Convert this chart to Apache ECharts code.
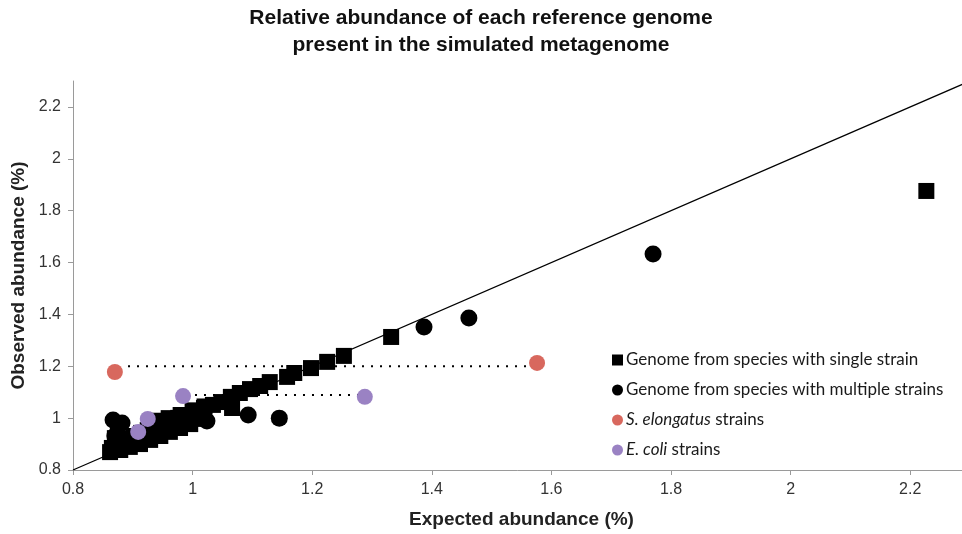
<!DOCTYPE html>
<html>
<head>
<meta charset="utf-8">
<script src="https://cdn.jsdelivr.net/npm/echarts@6/dist/echarts.min.js"></script>
<style>
html,body{margin:0;padding:0;background:#fff;}
#c{width:962px;height:534px;}
</style>
</head>
<body>
<div id="c"></div>
<script>
// ---- data ----
var titleText = 'Relative abundance of each reference genome\npresent in the simulated metagenome';
var xAxisName = 'Expected abundance (%)';
var yAxisName = 'Observed abundance (%)';
var tickValues = [0.8, 1.0, 1.2, 1.4, 1.6, 1.8, 2.0, 2.2];
var seriesNames = ['Genome from species with single strain', 'Genome from species with multiple strains', 'S. elongatus strains', 'E. coli strains'];

var singleStrain = [
  [2.227, 1.876], [1.332, 1.313], [1.253, 1.240], [1.225, 1.217], [1.198, 1.193],
  [1.170, 1.174], [1.158, 1.159], [1.129, 1.139], [1.113, 1.124], [1.096, 1.112],
  [1.079, 1.097], [1.064, 1.082], [1.066, 1.039], [1.048, 1.062], [1.034, 1.051],
  [1.019, 1.039], [1.004, 1.024], [0.991, 1.012], [0.976, 1.001], [0.962, 0.989],
  [0.949, 0.977], [0.937, 0.966], [0.925, 0.954], [0.914, 0.943], [0.902, 0.931],
  [0.892, 0.920], [0.882, 0.908], [0.874, 0.896], [0.865, 0.885], [0.862, 0.869],
  [0.879, 0.877], [0.895, 0.889], [0.912, 0.900], [0.929, 0.916], [0.946, 0.931],
  [0.962, 0.947], [0.979, 0.962], [0.996, 0.977], [1.012, 0.997], [0.870, 0.923],
  [0.875, 0.950], [0.940, 0.990], [0.960, 1.000], [0.980, 1.012], [1.000, 1.030],
  [1.020, 1.045]
];
var multiStrain = [
  [1.770, 1.633], [1.462, 1.386], [1.387, 1.351], [1.145, 1.000], [1.093, 1.012],
  [1.024, 0.989], [0.867, 0.993], [0.882, 0.981], [0.870, 0.931], [0.885, 0.905]
];
var elongatus = [[0.870, 1.178], [1.576, 1.213]];
var ecoli = [[0.984, 1.085], [1.288, 1.082], [0.925, 0.997], [0.909, 0.947]];
var identityLine = [[0.8, 0.8], [2.3, 2.3]];
var elongatusDots = [[0.892, 1.2], [1.564, 1.2]];
var ecoliDots = [[1.004, 1.089], [1.277, 1.089]];

// ---- chart ----
var chart = echarts.init(document.getElementById('c'));
var labelFont = '"Liberation Sans", Arial, sans-serif';
var legendFont = 'Lato, "Open Sans", sans-serif';
function fmt(v) { return String(parseFloat(Number(v).toFixed(1))); }

chart.setOption({
  animation: false,
  backgroundColor: '#fff',
  title: {
    text: titleText,
    left: 'center',
    top: 0,
    textStyle: { fontFamily: '"Liberation Sans", Arial, sans-serif', fontWeight: 'bold', fontSize: 21, lineHeight: 27, color: '#111' }
  },
  legend: {
    orient: 'vertical',
    left: 607,
    top: 345,
    itemWidth: 11,
    itemHeight: 11,
    itemGap: 10,
    data: [
      { name: seriesNames[0], icon: 'rect' },
      { name: seriesNames[1], icon: 'circle' },
      { name: seriesNames[2], icon: 'circle' },
      { name: seriesNames[3], icon: 'circle' }
    ],
    formatter: function (n) {
      if (n === seriesNames[2]) return '{i|S. elongatus} strains';
      if (n === seriesNames[3]) return '{i|E. coli} strains';
      return n;
    },
    textStyle: {
      fontFamily: legendFont, fontSize: 17, lineHeight: 20, color: '#1a1a1a', padding: [0, 0, 0, -2],
      rich: { i: { fontStyle: 'italic', fontFamily: legendFont, fontSize: 17, color: '#1a1a1a' } }
    }
  },
  grid: { left: 73, top: 81, right: -8, bottom: 64, containLabel: false, outerBoundsMode: 'none' },
  xAxis: {
    type: 'value', min: 0.8, max: 2.3, interval: 0.2,
    name: xAxisName, nameLocation: 'middle', nameGap: 40,
    nameTextStyle: { fontFamily: labelFont, fontWeight: 'bold', fontSize: 19, color: '#222' },
    splitLine: { show: false },
    axisLine: { lineStyle: { color: '#9a9a9a', width: 1 } },
    axisTick: { show: true, length: 5, inside: false, customValues: tickValues, lineStyle: { color: '#9a9a9a' } },
    axisLabel: { customValues: tickValues, formatter: fmt, margin: 12, fontFamily: labelFont, fontSize: 16, color: '#333' }
  },
  yAxis: {
    type: 'value', min: 0.8, max: 2.3, interval: 0.2,
    name: yAxisName, nameLocation: 'middle', nameGap: 45,
    nameTextStyle: { fontFamily: labelFont, fontWeight: 'bold', fontSize: 19, color: '#222' },
    splitLine: { show: false },
    axisLine: { show: true, lineStyle: { color: '#9a9a9a', width: 1 } },
    axisTick: { show: true, length: 5, inside: false, customValues: tickValues, lineStyle: { color: '#9a9a9a' } },
    axisLabel: { customValues: tickValues, formatter: fmt, margin: 12, fontFamily: labelFont, fontSize: 16, color: '#333' }
  },
  series: [
    { name: 'identity', type: 'line', data: identityLine, symbol: 'none', z: 1, silent: true,
      lineStyle: { color: '#000', width: 1.3 } },
    { name: 'elDots', type: 'line', data: elongatusDots, symbol: 'none', z: 1, silent: true,
      lineStyle: { color: '#000', width: 2, type: [2, 7] } },
    { name: 'ecDots', type: 'line', data: ecoliDots, symbol: 'none', z: 1, silent: true,
      lineStyle: { color: '#000', width: 2, type: [2, 7] } },
    { name: seriesNames[0], type: 'scatter', symbol: 'rect', symbolSize: 16, data: singleStrain, z: 3,
      itemStyle: { color: '#000', opacity: 1 } },
    { name: seriesNames[1], type: 'scatter', symbol: 'circle', symbolSize: 17, data: multiStrain, z: 3,
      itemStyle: { color: '#000', opacity: 1 } },
    { name: seriesNames[2], type: 'scatter', symbol: 'circle', symbolSize: 16, data: elongatus, z: 4,
      itemStyle: { color: '#d8685e', opacity: 1 } },
    { name: seriesNames[3], type: 'scatter', symbol: 'circle', symbolSize: 16, data: ecoli, z: 4,
      itemStyle: { color: '#9a82c3', opacity: 1 } }
  ]
});
</script>
</body>
</html>
